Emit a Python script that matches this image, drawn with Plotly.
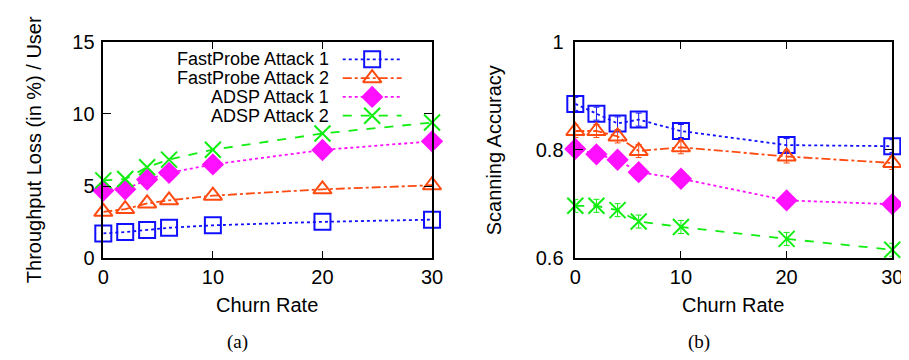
import plotly.graph_objects as go

W, H = 909, 360

churn = [0, 2, 4, 6, 10, 20, 30]
series_names = ["FastProbe Attack 1", "FastProbe Attack 2", "ADSP Attack 1", "ADSP Attack 2"]

# (a) Throughput loss (in %) per user
loss_fp1 = [1.73, 1.82, 1.97, 2.12, 2.29, 2.53, 2.68]
loss_fp2 = [3.22, 3.41, 3.80, 4.02, 4.34, 4.78, 5.06]
loss_adsp1 = [4.69, 4.78, 5.45, 5.92, 6.50, 7.50, 8.10]
loss_adsp2 = [5.40, 5.49, 6.31, 6.83, 7.52, 8.64, 9.40]

# (b) Scanning accuracy
acc_fp1 = [0.885, 0.867, 0.849, 0.856, 0.835, 0.809, 0.807]
acc_fp2 = [0.835, 0.835, 0.825, 0.798, 0.805, 0.788, 0.776]
acc_adsp1 = [0.802, 0.792, 0.782, 0.759, 0.747, 0.707, 0.700]
acc_adsp2 = [0.697, 0.697, 0.689, 0.668, 0.658, 0.636, 0.616]
acc_err = [0.012, 0.012, 0.012, 0.012, 0.012, 0.012, 0.012]

left_yticks = [0, 5, 10, 15]
right_yticks = [0.6, 0.8, 1.0]
right_yticktext = ["0.6", "0.8", "1"]
xticks = [0, 10, 20, 30]

colors = ["#1010ff", "#ff4a10", "#ff10ff", "#10ee10"]
dashes = ["dot", "dashdot", "dot", "dash"]
symbols = ["square-open", "triangle-up-open", "diamond", "x-thin-open"]
msizes = [16, 16, 15, 16]

loss = [loss_fp1, loss_fp2, loss_adsp1, loss_adsp2]
acc = [acc_fp1, acc_fp2, acc_adsp1, acc_adsp2]

FONT = "Liberation Sans, Arial, sans-serif"


def px_x(x):
    return x / W


def px_y(y):
    return 1 - y / H


fig = go.Figure()

for i in range(4):
    fig.add_trace(go.Scatter(
        x=churn, y=loss[i], mode="lines+markers", name=series_names[i],
        line=dict(color=colors[i], dash=dashes[i], width=1.8),
        marker=dict(symbol=symbols[i], size=msizes[i], color=colors[i],
                    line=dict(color=colors[i], width=2)),
        cliponaxis=False, showlegend=False, xaxis="x", yaxis="y"))

for i in range(4):
    fig.add_trace(go.Scatter(
        x=churn, y=acc[i], mode="lines+markers", name=series_names[i],
        line=dict(color=colors[i], dash=dashes[i], width=1.8),
        marker=dict(symbol=symbols[i], size=msizes[i], color=colors[i],
                    line=dict(color=colors[i], width=2)),
        error_y=dict(type="data", array=acc_err, color=colors[i], thickness=1, width=3),
        cliponaxis=False, showlegend=False, xaxis="x2", yaxis="y2"))

# custom gnuplot-style legend (text right, sample left)
leg_rows = [43, 63, 83, 103]
for i in range(4):
    fig.add_trace(go.Scatter(
        x=[335, 395], y=[leg_rows[i], leg_rows[i]], mode="lines",
        line=dict(color=colors[i], dash=dashes[i], width=1.8),
        showlegend=False, hoverinfo="skip", xaxis="x3", yaxis="y3"))
    fig.add_trace(go.Scatter(
        x=[365], y=[leg_rows[i]], mode="markers",
        marker=dict(symbol=symbols[i], size=msizes[i], color=colors[i],
                    line=dict(color=colors[i], width=2)),
        showlegend=False, hoverinfo="skip", cliponaxis=False, xaxis="x3", yaxis="y3"))

axis_common = dict(
    showline=True, linecolor="black", linewidth=1.5, mirror="allticks",
    ticks="inside", ticklen=8, tickwidth=1, tickcolor="black",
    showgrid=False, zeroline=False,
    tickfont=dict(family=FONT, size=20, color="black"),
)

fig.update_layout(
    width=W, height=H,
    margin=dict(l=0, r=0, t=0, b=0),
    paper_bgcolor="white", plot_bgcolor="rgba(0,0,0,0)",
    showlegend=False,
    xaxis=dict(domain=[px_x(91), px_x(426)], range=[0, 30], tickvals=xticks,
               anchor="y", ticklabelstandoff=0, **axis_common),
    yaxis=dict(domain=[px_y(255), px_y(24)], range=[0, 15], tickvals=left_yticks,
               anchor="x", ticklabelstandoff=3, **axis_common),
    xaxis2=dict(domain=[px_x(572), px_x(895)], range=[0, 30], tickvals=xticks,
                anchor="y2", ticklabelstandoff=0, **axis_common),
    yaxis2=dict(domain=[px_y(255), px_y(24)], range=[0.6, 1.0], tickvals=right_yticks,
                ticktext=right_yticktext, anchor="x2", ticklabelstandoff=6, **axis_common),
    xaxis3=dict(domain=[0, 1], range=[0, W], visible=False, fixedrange=True, anchor="y3"),
    yaxis3=dict(domain=[0, 1], range=[H, 0], visible=False, fixedrange=True, anchor="x3"),
)

annots = []
for i in range(4):
    annots.append(dict(x=px_x(323), y=px_y(leg_rows[i]), xref="paper", yref="paper",
                       text=series_names[i], showarrow=False, xanchor="right", yanchor="middle",
                       font=dict(family=FONT, size=18, color="black")))
annots += [
    dict(x=px_x(20), y=px_y(139), xref="paper", yref="paper", text="Throughput Loss (in %) / User",
         textangle=-90, showarrow=False, xanchor="center", yanchor="middle",
         font=dict(family=FONT, size=20, color="black")),
    dict(x=px_x(490), y=px_y(140), xref="paper", yref="paper", text="Scanning Accuracy",
         textangle=-90, showarrow=False, xanchor="center", yanchor="middle",
         font=dict(family=FONT, size=20, color="black")),
    dict(x=px_x(258), y=px_y(305), xref="paper", yref="paper", text="Churn Rate",
         showarrow=False, xanchor="center", yanchor="middle",
         font=dict(family=FONT, size=20, color="black")),
    dict(x=px_x(733), y=px_y(305), xref="paper", yref="paper", text="Churn Rate",
         showarrow=False, xanchor="center", yanchor="middle",
         font=dict(family=FONT, size=20, color="black")),
    dict(x=px_x(228), y=px_y(344), xref="paper", yref="paper", text="(a)",
         showarrow=False, xanchor="center", yanchor="middle",
         font=dict(family="Liberation Serif, Times New Roman, serif", size=19, color="black")),
    dict(x=px_x(698), y=px_y(344), xref="paper", yref="paper", text="(b)",
         showarrow=False, xanchor="center", yanchor="middle",
         font=dict(family="Liberation Serif, Times New Roman, serif", size=19, color="black")),
]
fig.update_layout(annotations=annots)

fig.write_html("out.html")
